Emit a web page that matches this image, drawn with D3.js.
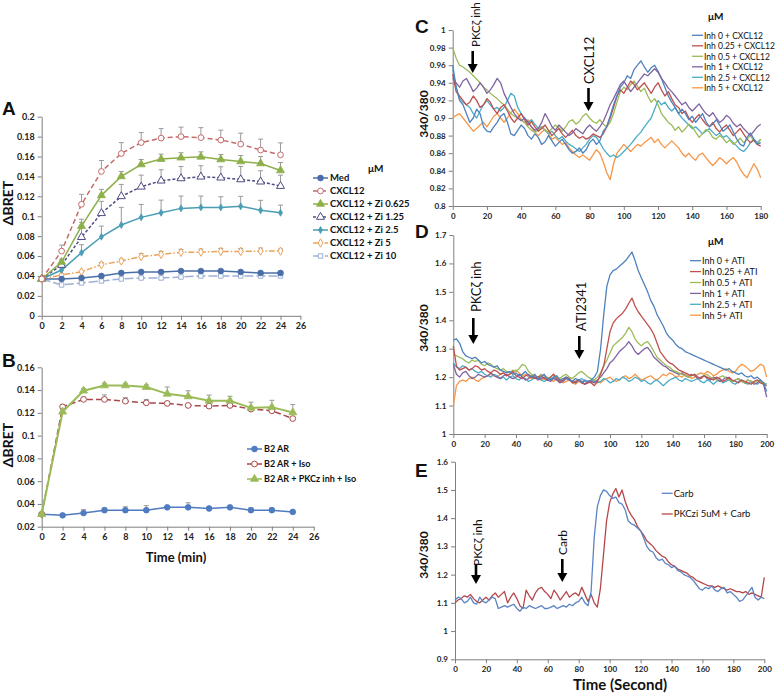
<!DOCTYPE html>
<html><head><meta charset="utf-8">
<script src="https://cdn.jsdelivr.net/npm/d3@7"></script>
<style>body{margin:0;background:#fff}svg{display:block}text{font-family:Lato,"Open Sans",sans-serif}</style>
</head><body><svg id="c" width="775" height="694"></svg>
<script>
// ---------- Panel A data ----------
const timeA = [0,2,4,6,8,10,12,14,16,18,20,22,24];
const namesA = ["Med","CXCL12","CXCL12 + Zi 0.625","CXCL12 + Zi 1.25","CXCL12 + Zi 2.5","CXCL12 + Zi 5","CXCL12 + Zi 10"];
const medA   = [0.037,0.037,0.038,0.040,0.043,0.044,0.044,0.045,0.045,0.045,0.044,0.043,0.043];
const cxclA  = [0.037,0.065,0.112,0.145,0.163,0.174,0.1785,0.180,0.179,0.1765,0.1725,0.1665,0.1617];
const zi0625 = [0.037,0.054,0.090,0.121,0.140,0.152,0.1574,0.1588,0.1597,0.157,0.155,0.153,0.146];
const zi125  = [0.037,0.051,0.079,0.103,0.120,0.1296,0.1357,0.138,0.1397,0.1387,0.137,0.1347,0.1303];
const zi25   = [0.037,0.046,0.0634,0.0794,0.0912,0.0989,0.1035,0.1079,0.1089,0.1089,0.110,0.106,0.1035];
const zi5    = [0.037,0.041,0.0443,0.0513,0.055,0.0594,0.0617,0.0637,0.064,0.0647,0.0647,0.065,0.065];
const zi10   = [0.037,0.031,0.033,0.035,0.037,0.038,0.038,0.039,0.040,0.040,0.040,0.040,0.040];
const errMed   = [0,0,0,0,0,0,0,0,0,0,0,0,0];
const errCxcl  = [0,0.006,0.010,0.011,0.011,0.010,0.0095,0.0095,0.010,0.010,0.011,0.011,0.012];
const err0625  = [0,0.003,0.007,0.006,0.005,0.005,0.005,0.005,0.005,0.005,0.006,0.007,0.008];
const err125   = [0,0.004,0.015,0.012,0.012,0.0117,0.011,0.012,0.011,0.011,0.013,0.011,0.011];
const err25    = [0,0.002,0.008,0.0107,0.0177,0.013,0.0127,0.0124,0.0114,0.0107,0.010,0.010,0.0077];
const err5     = [0,0.001,0.001,0.002,0.002,0.003,0.003,0.003,0.003,0.003,0.003,0.003,0.002];
const err10    = [0,0,0,0,0,0,0,0,0,0,0,0,0];
const ticksA_y = [0,0.02,0.04,0.06,0.08,0.1,0.12,0.14,0.16,0.18,0.2];
const ticksMin = [0,2,4,6,8,10,12,14,16,18,20,22,24,26];

// ---------- Panel B data ----------
const namesB = ["B2 AR","B2 AR + Iso","B2 AR + PKCz inh + Iso"];
const b2ar   = [0.031,0.030,0.032,0.0345,0.0345,0.0345,0.037,0.037,0.036,0.037,0.0345,0.0345,0.033];
const b2iso  = [0.031,0.1253,0.1318,0.1318,0.1303,0.1288,0.1283,0.1265,0.1259,0.1265,0.1233,0.1218,0.115];
const b2pkc  = [0.031,0.121,0.1394,0.144,0.144,0.1426,0.1367,0.1344,0.1306,0.1306,0.1244,0.125,0.1203];
const errB2  = [0,0,0.003,0.002,0.003,0.004,0,0.004,0,0,0.002,0.002,0];
const errIso = [0,0.002,0.002,0.004,0.003,0.003,0,0,0,0,0,0,0];
const errPkc = [0,0.002,0.002,0.002,0.002,0.002,0.006,0.005,0.005,0.004,0.005,0.006,0.007];
const ticksB_y = [0.02,0.04,0.06,0.08,0.1,0.12,0.14,0.16];

// ---------- Panel C data (every 2 s, 0..180) ----------
const namesC = ["Inh 0 + CXCL12","Inh 0.25 + CXCL12","Inh 0.5 + CXCL12","Inh 1 + CXCL12","Inh 2.5 + CXCL12","Inh 5 + CXCL12"];
const c0 = [.960,.935,.920,.915,.905,.895,.900,.910,.905,.890,.885,.884,.890,.895,.902,.905,.895,.882,.880,.886,.892,.888,.880,.876,.882,.878,.870,.873,.880,.874,.868,.872,.876,.870,.864,.860,.862,.866,.860,.864,.872,.876,.870,.874,.885,.890,.902,.915,.925,.935,.940,.948,.945,.955,.960,.965,.958,.952,.957,.960,.953,.945,.935,.925,.918,.912,.905,.910,.905,.898,.902,.895,.900,.905,.896,.890,.893,.898,.892,.885,.888,.892,.884,.876,.870,.868,.878,.883,.876,.870,.872];
const c025 = [.950,.930,.925,.920,.915,.918,.925,.920,.912,.915,.922,.918,.910,.905,.912,.915,.908,.900,.895,.900,.905,.898,.892,.896,.890,.885,.888,.892,.886,.880,.884,.888,.882,.878,.882,.886,.880,.877,.879,.876,.878,.882,.880,.878,.882,.890,.900,.912,.925,.932,.928,.935,.942,.938,.932,.936,.940,.934,.928,.935,.940,.932,.925,.930,.922,.915,.912,.905,.908,.900,.895,.900,.904,.898,.893,.890,.895,.888,.884,.889,.892,.886,.880,.884,.888,.882,.876,.872,.875,.870,.868];
const c05 = [.980,.968,.960,.958,.955,.952,.948,.944,.940,.935,.932,.928,.925,.922,.918,.915,.910,.905,.902,.900,.898,.895,.890,.886,.884,.886,.890,.886,.884,.888,.892,.889,.885,.890,.896,.898,.893,.896,.902,.905,.900,.896,.894,.898,.893,.890,.895,.905,.918,.930,.935,.932,.938,.942,.936,.930,.934,.925,.918,.922,.915,.905,.900,.895,.892,.886,.890,.884,.888,.893,.890,.884,.878,.882,.887,.884,.878,.876,.880,.877,.872,.875,.870,.873,.877,.872,.876,.880,.874,.870,.876];
const c1 = [.945,.940,.935,.942,.945,.938,.930,.934,.940,.935,.928,.932,.938,.945,.940,.928,.920,.912,.905,.900,.897,.900,.895,.890,.886,.888,.895,.905,.898,.890,.886,.892,.888,.884,.880,.883,.888,.885,.882,.888,.892,.888,.885,.890,.896,.905,.915,.922,.930,.938,.942,.936,.930,.935,.940,.945,.950,.948,.952,.956,.952,.945,.940,.934,.930,.925,.920,.915,.918,.912,.908,.912,.916,.910,.905,.902,.906,.900,.895,.898,.903,.900,.894,.890,.893,.888,.884,.880,.885,.890,.893];
const c25 = [.955,.935,.922,.918,.915,.912,.905,.900,.908,.915,.920,.915,.910,.912,.908,.912,.920,.928,.925,.912,.905,.900,.895,.898,.893,.888,.890,.886,.882,.885,.880,.876,.879,.874,.870,.868,.865,.862,.866,.870,.876,.880,.878,.872,.865,.860,.856,.858,.855,.858,.862,.866,.870,.875,.880,.884,.890,.895,.900,.910,.920,.915,.918,.912,.908,.912,.905,.900,.896,.892,.888,.890,.886,.882,.885,.888,.884,.880,.883,.878,.880,.876,.872,.868,.864,.862,.866,.872,.876,.872,.876];
const c5 = [.900,.903,.905,.900,.895,.890,.885,.888,.892,.895,.890,.896,.902,.905,.900,.895,.900,.906,.910,.905,.898,.895,.898,.890,.884,.880,.884,.887,.882,.876,.878,.874,.870,.872,.866,.862,.858,.855,.858,.855,.852,.858,.864,.860,.850,.838,.830,.848,.860,.865,.870,.866,.862,.866,.870,.868,.872,.875,.878,.872,.876,.870,.866,.870,.874,.870,.866,.860,.856,.860,.855,.852,.858,.860,.855,.850,.846,.850,.855,.852,.848,.852,.855,.850,.842,.836,.832,.840,.848,.842,.832];
const ticksC_y = [0.8,0.82,0.84,0.86,0.88,0.9,0.92,0.94,0.96,0.98,1];
const ticksC_x = [0,20,40,60,80,100,120,140,160,180];

// ---------- Panel D data (every 2 s, 0..200) ----------
const namesD = ["Inh 0 + ATI","Inh 0.25 + ATI","Inh 0.5 + ATI","Inh 1 + ATI","Inh 2.5 + ATI","Inh 5+ ATI"];
const d0 = [1.33,1.335,1.32,1.29,1.275,1.27,1.265,1.27,1.26,1.25,1.255,1.245,1.24,1.235,1.24,1.225,1.22,1.215,1.22,1.21,1.215,1.205,1.21,1.22,1.205,1.2,1.21,1.195,1.2,1.21,1.195,1.19,1.2,1.205,1.19,1.195,1.2,1.19,1.185,1.195,1.19,1.18,1.19,1.185,1.19,1.2,1.22,1.3,1.42,1.52,1.56,1.575,1.58,1.59,1.6,1.61,1.625,1.64,1.61,1.575,1.55,1.525,1.5,1.47,1.45,1.42,1.4,1.38,1.355,1.34,1.33,1.315,1.305,1.3,1.29,1.285,1.28,1.275,1.27,1.265,1.26,1.255,1.25,1.245,1.24,1.235,1.23,1.225,1.23,1.22,1.215,1.21,1.215,1.205,1.2,1.205,1.195,1.2,1.19,1.18,1.15];
const d025 = [1.31,1.24,1.225,1.23,1.235,1.225,1.23,1.24,1.235,1.225,1.23,1.22,1.215,1.225,1.22,1.21,1.215,1.205,1.21,1.22,1.205,1.2,1.195,1.205,1.21,1.2,1.195,1.2,1.205,1.195,1.19,1.2,1.21,1.195,1.185,1.19,1.2,1.195,1.18,1.185,1.19,1.18,1.175,1.185,1.18,1.17,1.185,1.21,1.24,1.3,1.36,1.39,1.405,1.415,1.425,1.44,1.46,1.478,1.45,1.43,1.415,1.4,1.385,1.37,1.35,1.32,1.29,1.275,1.26,1.25,1.245,1.235,1.225,1.22,1.215,1.21,1.205,1.21,1.2,1.195,1.205,1.2,1.195,1.19,1.2,1.195,1.185,1.19,1.2,1.19,1.185,1.18,1.19,1.185,1.18,1.175,1.185,1.19,1.18,1.175,1.17];
const d05 = [1.28,1.275,1.27,1.265,1.255,1.25,1.26,1.255,1.26,1.245,1.24,1.25,1.245,1.235,1.23,1.225,1.23,1.22,1.215,1.225,1.22,1.23,1.245,1.24,1.22,1.21,1.205,1.2,1.21,1.205,1.195,1.2,1.21,1.2,1.195,1.205,1.21,1.2,1.195,1.205,1.215,1.22,1.21,1.2,1.195,1.19,1.2,1.215,1.24,1.26,1.285,1.31,1.32,1.33,1.34,1.355,1.375,1.36,1.335,1.32,1.31,1.32,1.325,1.31,1.29,1.27,1.26,1.25,1.24,1.235,1.225,1.22,1.215,1.21,1.205,1.2,1.205,1.21,1.2,1.195,1.205,1.21,1.2,1.195,1.19,1.2,1.205,1.195,1.19,1.185,1.19,1.195,1.185,1.18,1.19,1.185,1.18,1.19,1.185,1.18,1.175];
const d1 = [1.245,1.21,1.2,1.215,1.22,1.205,1.195,1.2,1.21,1.205,1.2,1.205,1.215,1.205,1.2,1.195,1.205,1.21,1.2,1.195,1.2,1.21,1.2,1.19,1.195,1.205,1.2,1.19,1.195,1.2,1.19,1.185,1.195,1.19,1.18,1.185,1.195,1.19,1.185,1.18,1.19,1.185,1.175,1.18,1.185,1.18,1.19,1.2,1.215,1.23,1.25,1.26,1.275,1.29,1.3,1.31,1.325,1.31,1.29,1.28,1.29,1.3,1.305,1.29,1.27,1.26,1.25,1.24,1.235,1.225,1.22,1.215,1.21,1.215,1.205,1.2,1.21,1.205,1.195,1.2,1.205,1.195,1.19,1.2,1.195,1.185,1.19,1.2,1.195,1.185,1.19,1.195,1.185,1.18,1.19,1.185,1.175,1.18,1.19,1.175,1.13];
const d25 = [1.25,1.235,1.23,1.24,1.235,1.225,1.23,1.22,1.215,1.22,1.21,1.205,1.2,1.21,1.205,1.195,1.2,1.19,1.2,1.205,1.195,1.19,1.2,1.195,1.185,1.19,1.2,1.195,1.19,1.185,1.19,1.195,1.2,1.19,1.185,1.19,1.2,1.195,1.185,1.18,1.19,1.195,1.185,1.18,1.19,1.185,1.18,1.185,1.195,1.19,1.18,1.185,1.195,1.19,1.2,1.195,1.185,1.19,1.2,1.195,1.185,1.19,1.18,1.175,1.185,1.19,1.18,1.17,1.18,1.19,1.195,1.2,1.19,1.185,1.195,1.19,1.185,1.19,1.195,1.185,1.18,1.19,1.185,1.175,1.185,1.19,1.18,1.185,1.19,1.18,1.175,1.185,1.19,1.18,1.175,1.185,1.18,1.175,1.185,1.18,1.175];
const d5 = [1.10,1.17,1.185,1.19,1.185,1.195,1.2,1.19,1.185,1.195,1.2,1.205,1.21,1.205,1.2,1.21,1.215,1.205,1.21,1.22,1.225,1.215,1.205,1.21,1.2,1.195,1.205,1.2,1.19,1.195,1.2,1.19,1.185,1.195,1.19,1.18,1.185,1.19,1.18,1.175,1.185,1.18,1.175,1.185,1.18,1.19,1.185,1.18,1.19,1.195,1.2,1.19,1.185,1.19,1.2,1.205,1.195,1.2,1.21,1.2,1.19,1.195,1.2,1.205,1.195,1.19,1.2,1.21,1.205,1.215,1.21,1.2,1.205,1.2,1.21,1.205,1.195,1.2,1.21,1.215,1.21,1.22,1.215,1.205,1.21,1.22,1.225,1.23,1.22,1.215,1.22,1.235,1.245,1.24,1.23,1.22,1.225,1.235,1.245,1.24,1.2];
const ticksD_y = [1,1.1,1.2,1.3,1.4,1.5,1.6,1.7];
const ticksSec = [0,20,40,60,80,100,120,140,160,180,200];

// ---------- Panel E data (every 2 s, 0..200) ----------
const namesE = ["Carb","PKCzi 5uM + Carb"];
const eCarb = [1.11,1.12,1.115,1.1,1.105,1.12,1.1,1.095,1.12,1.105,1.1,1.11,1.12,1.115,1.08,1.085,1.09,1.085,1.09,1.095,1.08,1.07,1.085,1.08,1.09,1.085,1.08,1.085,1.09,1.08,1.08,1.085,1.09,1.08,1.085,1.09,1.085,1.095,1.09,1.1,1.105,1.12,1.1,1.09,1.14,1.33,1.44,1.48,1.5,1.495,1.48,1.47,1.475,1.455,1.45,1.43,1.39,1.38,1.375,1.365,1.355,1.33,1.3,1.285,1.28,1.26,1.25,1.255,1.24,1.235,1.225,1.23,1.215,1.21,1.2,1.195,1.19,1.18,1.165,1.15,1.145,1.155,1.15,1.16,1.145,1.14,1.15,1.155,1.135,1.14,1.13,1.12,1.105,1.11,1.125,1.14,1.155,1.12,1.11,1.12,1.115];
const ePkc = [1.1,1.11,1.115,1.125,1.12,1.13,1.115,1.105,1.1,1.11,1.12,1.11,1.125,1.135,1.12,1.13,1.14,1.1,1.12,1.135,1.115,1.09,1.08,1.145,1.125,1.11,1.135,1.15,1.155,1.14,1.13,1.115,1.145,1.13,1.11,1.125,1.14,1.12,1.13,1.135,1.125,1.155,1.13,1.105,1.13,1.1,1.085,1.15,1.27,1.39,1.455,1.485,1.505,1.475,1.5,1.46,1.43,1.41,1.395,1.37,1.355,1.34,1.32,1.31,1.3,1.285,1.275,1.265,1.26,1.245,1.235,1.23,1.22,1.215,1.21,1.205,1.195,1.19,1.18,1.175,1.17,1.165,1.16,1.16,1.155,1.16,1.155,1.15,1.145,1.15,1.145,1.14,1.14,1.135,1.14,1.13,1.135,1.13,1.125,1.12,1.19];
const ticksE_y = [0.9,1,1.1,1.2,1.3,1.4,1.5,1.6];

// ---------- drawing ----------
const svg = d3.select("#c");
const AX = "#7f7f7f";
const fmt = d => String(+d.toFixed(2));
const excel = {blue:"#4F81BD",red:"#C0504D",green:"#9BBB59",purple:"#8064A2",aqua:"#4BACC6",orange:"#F79646"};

function styleAxis(g, fs){
  g.select(".domain").attr("stroke",AX).attr("stroke-width",1);
  g.selectAll(".tick line").attr("stroke",AX);
  g.selectAll(".tick text").attr("fill","#222").style("font-size",fs+"px").style("font-weight","bold").style("font-family","Lato,sans-serif");
}
function axes(x, y, xt, yt, fs){
  const [x0] = x.range(); const [y0] = y.range();
  svg.append("g").attr("transform",`translate(${x0},0)`)
    .call(d3.axisLeft(y).tickValues(yt).tickFormat(fmt).tickSize(4).tickPadding(3).tickSizeOuter(0)).call(g=>styleAxis(g,fs));
  svg.append("g").attr("transform",`translate(0,${y0})`)
    .call(d3.axisBottom(x).tickValues(xt).tickFormat(fmt).tickSize(4).tickPadding(3).tickSizeOuter(0)).call(g=>styleAxis(g,fs));
}
function marker(g, type, cx, cy, col){
  const open = type.startsWith("o");
  const kind = type.replace(/^o/,"");
  const sym = {circle:[d3.symbolCircle,26],tri:[d3.symbolTriangle,28],diam:[d3.symbolDiamond,20],sq:[d3.symbolSquare,20],star:[d3.symbolDiamond,14]}[kind];
  g.append("path").attr("d",d3.symbol().type(sym[0]).size(sym[1])())
    .attr("transform",`translate(${cx},${cy})`)
    .attr("fill",open?"#fff":col).attr("stroke",col).attr("stroke-width",open?1:0.8);
}
function catSeries(x, y, times, vals, errs, s){
  const g = svg.append("g");
  times.forEach((t,i)=>{ if(errs[i]>0){
    const px=x(t), top=y(vals[i]+errs[i]);
    g.append("line").attr("x1",px).attr("x2",px).attr("y1",y(vals[i])).attr("y2",top).attr("stroke","#9a9a9a").attr("stroke-width",1);
    g.append("line").attr("x1",px-2.5).attr("x2",px+2.5).attr("y1",top).attr("y2",top).attr("stroke","#9a9a9a").attr("stroke-width",1);
  }});
  g.append("path").datum(times.map((t,i)=>[t,vals[i]]))
    .attr("d",d3.line().x(d=>x(d[0])).y(d=>y(d[1])))
    .attr("fill","none").attr("stroke",s.col).attr("stroke-width",s.w||1.5).attr("stroke-dasharray",s.dash||null);
  times.forEach((t,i)=>marker(g,s.mk,x(t),y(vals[i]),s.col));
}
function trace(x, y, vals, col){
  svg.append("path").datum(vals.map((v,i)=>[i*2,v]))
    .attr("d",d3.line().x(d=>x(d[0])).y(d=>y(d[1])))
    .attr("fill","none").attr("stroke",col).attr("stroke-width",1.3).attr("stroke-linejoin","round");
}
function txt(x,y,s,o={}){
  const t=svg.append("text").attr("x",x).attr("y",y).text(s)
    .style("font-size",(o.fs||10)+"px").style("font-weight",o.fw||"normal").attr("fill",o.fill||"#111")
    .attr("text-anchor",o.anchor||"start");
  if(o.ff) t.style("font-family",o.ff);
  if(o.rot) t.attr("transform",`rotate(${o.rot},${x},${y})`);
  return t;
}
function arrow(x, y1, y2){
  svg.append("line").attr("x1",x).attr("x2",x).attr("y1",y1).attr("y2",y2-7).attr("stroke","#000").attr("stroke-width",2.6);
  svg.append("path").attr("d",`M${x-5},${y2-9}L${x+5},${y2-9}L${x},${y2}Z`).attr("fill","#000");
}
function legendLine(x, y, col, label, fs, dash, mk, w){
  svg.append("line").attr("x1",x).attr("x2",x+(mk?15:11)).attr("y1",y).attr("y2",y).attr("stroke",col).attr("stroke-width",w||1.5).attr("stroke-dasharray",dash||null);
  if(mk) marker(svg, mk, x+7.5, y, col);
  txt(x+(mk?17:12), y+3.3, label, {fs:fs, fw: mk?"bold":"normal"});
}

// Panel A
const xA = d3.scaleLinear([0,26],[41.7,300.4]);
const yA = d3.scaleLinear([0,0.2],[315.8,116.7]);
axes(xA,yA,ticksMin,ticksA_y,9);
const stylesA = [
  {col:"#4A6FA8",mk:"circle"},
  {col:"#C46A6A",mk:"ocircle",dash:"5,3"},
  {col:"#8DB04A",mk:"tri"},
  {col:"#4E4C84",mk:"otri",dash:"3,2"},
  {col:"#4A9DB4",mk:"star"},
  {col:"#E9A35C",mk:"odiam",dash:"6,2,1.5,2"},
  {col:"#9DB0D3",mk:"osq",dash:"9,3"}
];
const valsA = [medA,cxclA,zi0625,zi125,zi25,zi5,zi10];
const errsA = [errMed,errCxcl,err0625,err125,err25,err5,err10];
[6,5,0,4,3,2,1].forEach(i=>catSeries(xA,yA,timeA,valsA[i],errsA[i],stylesA[i]));
txt(2,115,"A",{fs:19,fw:"bold",ff:"Liberation Sans"});
txt(13,203,"ΔBRET",{fs:14,fw:"bold",anchor:"middle",rot:-90});
txt(368,172,"μM",{fs:10,fw:"bold"});
namesA.forEach((n,i)=>legendLine(313,178+i*13,stylesA[i].col,n,9.5,stylesA[i].dash,stylesA[i].mk));

// Panel B
const xB = d3.scaleLinear([0,26],[41.7,313.7]);
const yB = d3.scaleLinear([0.02,0.16],[526.7,367.3]);
axes(xB,yB,ticksMin,ticksB_y,9);
const stylesB = [
  {col:"#4F7BC0",mk:"circle"},
  {col:"#A8474A",mk:"ocircle",dash:"6,3"},
  {col:"#9BBB59",mk:"tri",w:2}
];
const valsB=[b2ar,b2iso,b2pkc], errsB=[errB2,errIso,errPkc];
[0,1,2].forEach(i=>catSeries(xB,yB,timeA,valsB[i],errsB[i],stylesB[i]));
txt(2,367,"B",{fs:19,fw:"bold",ff:"Liberation Sans"});
txt(13,445,"ΔBRET",{fs:14,fw:"bold",anchor:"middle",rot:-90});
txt(176,562,"Time (min)",{fs:13,fw:"bold",anchor:"middle"});
namesB.forEach((n,i)=>legendLine(247,449+i*15,stylesB[i].col,n,9,stylesB[i].dash,stylesB[i].mk));

// Panel C
const xC = d3.scaleLinear([0,180],[452.7,760.7]);
const yC = d3.scaleLinear([0.8,1],[206,30]);
axes(xC,yC,ticksC_x,ticksC_y,8);
const colsC=[excel.blue,excel.red,excel.green,excel.purple,excel.aqua,excel.orange];
[c5,c25,c05,c025,c0,c1].forEach((v,k)=>trace(xC,yC,v,[colsC[5],colsC[4],colsC[2],colsC[1],colsC[0],colsC[3]][k]));
txt(415,33,"C",{fs:19,fw:"bold",ff:"Liberation Sans"});
txt(428,114,"340/380",{fs:12,fw:"bold",anchor:"middle",rot:-90});
txt(479.5,47,"PKCζ inh",{fs:11.5,rot:-90});
arrow(472.7,51,73);
txt(594,84,"CXCL12",{fs:13,rot:-90});
arrow(588.5,88,111);
txt(708,20,"μM",{fs:10,fw:"bold"});
namesC.forEach((n,i)=>legendLine(692,35.3+i*10.5,colsC[i],n,8.5,null,null,1.3));

// Panel D
const xD = d3.scaleLinear([0,200],[453.3,766.7]);
const yD = d3.scaleLinear([1,1.7],[434,235]);
axes(xD,yD,ticksSec,ticksD_y,8);
[d5,d25,d1,d05,d025,d0].forEach((v,k)=>trace(xD,yD,v,[colsC[5],colsC[4],colsC[3],colsC[2],colsC[1],colsC[0]][k]));
txt(415,238,"D",{fs:19,fw:"bold",ff:"Liberation Sans"});
txt(428,328,"340/380",{fs:12,fw:"bold",anchor:"middle",rot:-90});
txt(481,312,"PKCζ inh",{fs:13,rot:-90});
arrow(473.3,318,344);
txt(586,331,"ATI2341",{fs:13,rot:-90});
arrow(579.3,336,359);
txt(708,245,"μM",{fs:10,fw:"bold"});
namesD.forEach((n,i)=>legendLine(690,260.7+i*10.9,colsC[i],n,9,null,null,1.3));

// Panel E
const xE = d3.scaleLinear([0,200],[455,764.3]);
const yE = d3.scaleLinear([0.9,1.6],[659.3,461.7]);
axes(xE,yE,ticksSec,ticksE_y,8);
trace(xE,yE,ePkc,"#B5474B");
trace(xE,yE,eCarb,"#5B84C4");
txt(415,477,"E",{fs:19,fw:"bold",ff:"Liberation Sans"});
txt(428,555,"340/380",{fs:12,fw:"bold",anchor:"middle",rot:-90});
txt(482,566,"PKCζ inh",{fs:12,rot:-90});
arrow(476,565,584);
txt(567,555,"Carb",{fs:12,rot:-90});
arrow(562.3,559,582);
legendLine(661.7,493.3,"#5B84C4","Carb",9.5,null,null,1.3);
legendLine(661.7,514,"#B5474B","PKCzi 5uM + Carb",9.5,null,null,1.3);
txt(620,690,"Time (Second)",{fs:15,fw:"bold",anchor:"middle"});
</script></body></html>
